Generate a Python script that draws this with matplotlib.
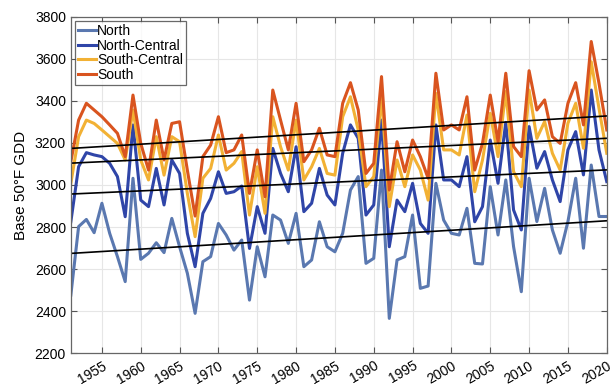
import numpy as np
import matplotlib
matplotlib.use("Agg")
import matplotlib.pyplot as plt

plt.rcParams["font.family"] = ["Liberation Sans", "DejaVu Sans"]

years = np.arange(1951, 2021)

north = [2476, 2802, 2836, 2773, 2913, 2770, 2659, 2540, 3032, 2646,
         2675, 2725, 2678, 2841, 2706, 2580, 2389, 2635, 2659, 2817,
         2762, 2690, 2738, 2452, 2706, 2563, 2857, 2833, 2722, 2865,
         2611, 2643, 2825, 2706, 2682, 2770, 2976, 3040, 2627, 2651,
         3071, 2365, 2643, 2659, 2857, 2508, 2519, 3008, 2833, 2770,
         2762, 2889, 2627, 2624, 2992, 2762, 3024, 2707, 2492, 3032,
         2826, 2984, 2786, 2675, 2826, 3032, 2699, 3095, 2850, 2850]

north_central = [2825, 3087, 3154, 3143, 3135, 3103, 3040, 2849, 3286, 2928,
                 2897, 3079, 2905, 3119, 3055, 2770, 2611, 2865, 2936, 3063,
                 2960, 2968, 2995, 2698, 2897, 2770, 3174, 3055, 2968, 3182,
                 2873, 2913, 3079, 2952, 2905, 3151, 3286, 3222, 2857, 2905,
                 3309, 2706, 2928, 2873, 3008, 2817, 2770, 3286, 3024, 3024,
                 2992, 3135, 2825, 2897, 3214, 3008, 3298, 2881, 2786, 3278,
                 3080, 3159, 3024, 2921, 3167, 3254, 3048, 3452, 3167, 3016]

south_central = [3008, 3230, 3309, 3293, 3262, 3230, 3198, 3119, 3357, 3119,
                 3024, 3230, 3047, 3230, 3206, 2960, 2754, 3032, 3079, 3238,
                 3071, 3103, 3159, 2857, 3087, 2865, 3325, 3182, 3071, 3309,
                 3024, 3087, 3174, 3055, 3047, 3325, 3420, 3262, 2992, 3040,
                 3420, 2897, 3119, 2992, 3143, 3071, 2928, 3436, 3167, 3167,
                 3143, 3333, 2968, 3119, 3341, 3135, 3445, 3064, 2992, 3452,
                 3222, 3302, 3151, 3071, 3294, 3389, 3175, 3587, 3365, 3151]

south = [3111, 3309, 3389, 3357, 3325, 3286, 3246, 3135, 3428, 3198,
         3071, 3309, 3119, 3293, 3301, 3071, 2852, 3135, 3190, 3325,
         3154, 3167, 3238, 2960, 3167, 2944, 3452, 3309, 3167, 3389,
         3111, 3167, 3270, 3143, 3135, 3389, 3487, 3357, 3055, 3103,
         3516, 2976, 3206, 3063, 3214, 3135, 3032, 3532, 3262, 3286,
         3262, 3420, 3071, 3198, 3428, 3206, 3532, 3183, 3135, 3544,
         3357, 3405, 3230, 3198, 3389, 3487, 3286, 3683, 3484, 3262]

series = [("North", north, "#5a78b0"),
          ("North-Central", north_central, "#2f45a8"),
          ("South-Central", south_central, "#f2b134"),
          ("South", south, "#d9541f")]

fig = plt.figure(figsize=(6.16, 3.85), dpi=100)
ax = fig.add_axes([0.115, 0.083, 0.870, 0.873])

for name, vals, color in series:
    ax.plot(years, vals, color=color, lw=2.2, label=name)

# linear trend for each region
for name, vals, color in series:
    slope, icpt = np.polyfit(years, vals, 1)
    ax.plot(years, slope * years + icpt, color="black", lw=1.2)

ax.set_xlim(1951, 2020)
ax.set_ylim(2200, 3800)
ax.set_xticks(np.arange(1955, 2021, 5))
ax.set_yticks(np.arange(2200, 3801, 200))
ax.tick_params(axis="x", labelsize=10, direction="in", top=True,
               length=4, color="#555555", pad=4)
ax.tick_params(axis="y", labelsize=10, direction="in", right=True,
               length=4, color="#555555")
plt.setp(ax.get_xticklabels(), rotation=30, ha="right", va="top",
         rotation_mode="anchor")
ax.set_ylabel("Base 50°F GDD", fontsize=11, labelpad=5)
ax.grid(True, color="#e6e6e6", lw=0.8)
ax.set_axisbelow(True)
for sp in ax.spines.values():
    sp.set_color("#666666")
    sp.set_linewidth(0.9)

leg = ax.legend(loc="upper left", fontsize=10, handlelength=1.3,
                handletextpad=0.1, borderpad=0.2, labelspacing=0.05,
                fancybox=False, borderaxespad=0.3)
leg.get_frame().set_edgecolor("#444444")
leg.get_frame().set_linewidth(0.9)

fig.savefig("out.png", dpi=100)
